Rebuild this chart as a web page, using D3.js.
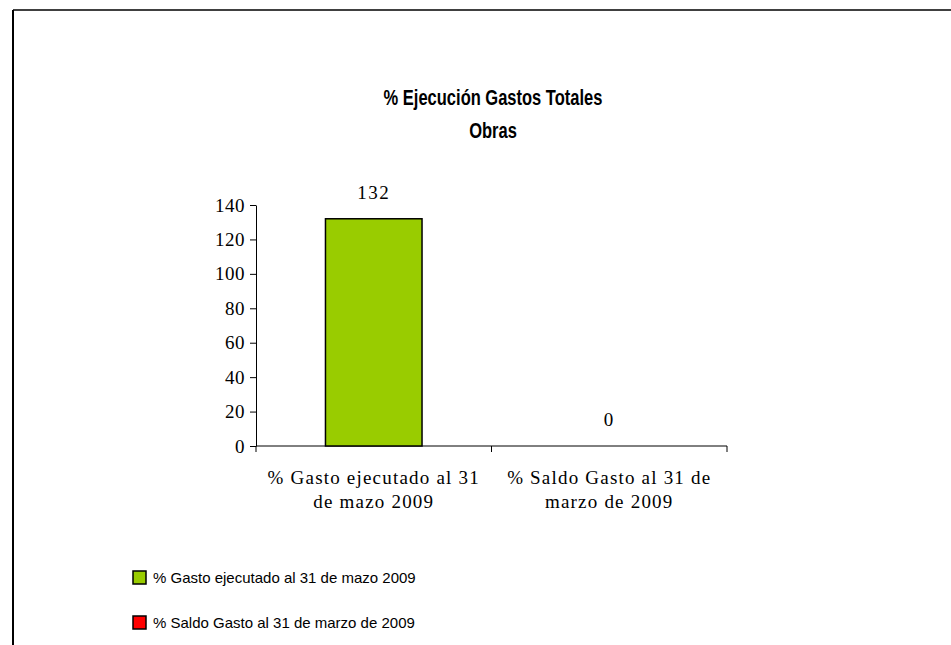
<!DOCTYPE html>
<html>
<head>
<meta charset="utf-8">
<style>
  body { margin: 0; background: #fff; overflow: hidden; }
  .title { font: bold 22px "Liberation Sans", Arial, sans-serif; fill: #000; text-anchor: middle; }
  .axis text { font: 19px "Liberation Serif", "Times New Roman", serif; fill: #000; letter-spacing: 0.5px; }
  .axis path, .axis line { stroke: #000; }
  .cat { font: 19px "Liberation Serif", "Times New Roman", serif; text-anchor: middle; letter-spacing: 1.2px; }
  .val { font: 19px "Liberation Serif", "Times New Roman", serif; text-anchor: middle; letter-spacing: 1.5px; }
  .legend text { font: 15px "Liberation Sans", Arial, sans-serif; }
</style>
<script src="https://d3js.org/d3.v7.min.js"></script>
</head>
<body>
<svg width="951" height="645"></svg>
<script>
// data
var categories = ["% Gasto ejecutado al 31 de mazo 2009", "% Saldo Gasto al 31 de marzo de 2009"];
var catLines = [["% Gasto ejecutado al 31", "de mazo 2009"], ["% Saldo Gasto al 31 de", "marzo de 2009"]];
var values = [132, 0];
var colors = ["#99CC00", "#FF0000"];
var yTicks = [0, 20, 40, 60, 80, 100, 120, 140];
var titleLines = ["% Ejecución Gastos Totales", "Obras"];

var svg = d3.select("svg");

// outer frame (top + left only visible)
svg.append("line").attr("x1", 13).attr("x2", 951).attr("y1", 10).attr("y2", 10)
    .attr("stroke", "#404040").attr("stroke-width", 2);
svg.append("line").attr("x1", 13).attr("x2", 13).attr("y1", 10).attr("y2", 645)
    .attr("stroke", "#000").attr("stroke-width", 2);

// title, condensed like the original
var tg = svg.append("g").attr("transform", "translate(493,0) scale(0.75,1)");
tg.selectAll(".title").data(titleLines).enter().append("text")
    .attr("class", "title")
    .attr("x", 0)
    .attr("y", function (d, i) { return 105 + i * 33; })
    .text(function (d) { return d; });

var pLeft = 256, pRight = 727, pTop = 205, pBottom = 446;

var x = d3.scaleBand().domain(categories).range([pLeft, pRight]).paddingInner(0.59).paddingOuter(0.295);
var y = d3.scaleLinear().domain([0, 140]).range([pBottom, pTop]);

svg.append("g").attr("class", "axis")
    .attr("transform", "translate(" + pLeft + ",0)")
    .call(d3.axisLeft(y).tickValues(yTicks).tickSize(6).tickPadding(5).tickSizeOuter(0));

// x axis with ticks on category boundaries
var xg = svg.append("g").attr("class", "axis");
xg.append("line").attr("x1", pLeft).attr("x2", pRight).attr("y1", pBottom).attr("y2", pBottom).attr("stroke", "#000");
var step = (pRight - pLeft) / categories.length;
d3.range(categories.length + 1).forEach(function (i) {
    xg.append("line").attr("x1", pLeft + i * step).attr("x2", pLeft + i * step)
        .attr("y1", pBottom).attr("y2", pBottom + 6).attr("stroke", "#000");
});

svg.selectAll(".bar").data(values).enter().append("rect")
    .attr("class", "bar")
    .attr("x", function (d, i) { return x(categories[i]); })
    .attr("width", x.bandwidth())
    .attr("y", function (d) { return y(d); })
    .attr("height", function (d) { return pBottom - y(d); })
    .attr("fill", function (d, i) { return colors[i]; })
    .attr("stroke", "#000").attr("stroke-width", function (d) { return d > 0 ? 1.5 : 0; });

svg.selectAll(".val").data(values).enter().append("text")
    .attr("class", "val")
    .attr("x", function (d, i) { return x(categories[i]) + x.bandwidth() / 2; })
    .attr("y", function (d) { return y(d) - 20; })
    .text(function (d) { return d; });

catLines.forEach(function (lines, i) {
    var cx = x(categories[i]) + x.bandwidth() / 2;
    var t = svg.append("text").attr("class", "cat").attr("x", cx).attr("y", 484);
    lines.forEach(function (l, j) {
        t.append("tspan").attr("x", cx).attr("dy", j === 0 ? 0 : 24).text(l);
    });
});

var legend = svg.append("g").attr("class", "legend");
categories.forEach(function (c, i) {
    var g = legend.append("g").attr("transform", "translate(133," + (571 + i * 45) + ")");
    g.append("rect").attr("width", 13).attr("height", 13)
        .attr("fill", colors[i]).attr("stroke", "#000").attr("stroke-width", 1.5);
    g.append("text").attr("x", 20).attr("y", 12).text(c);
});
</script>
</body>
</html>
